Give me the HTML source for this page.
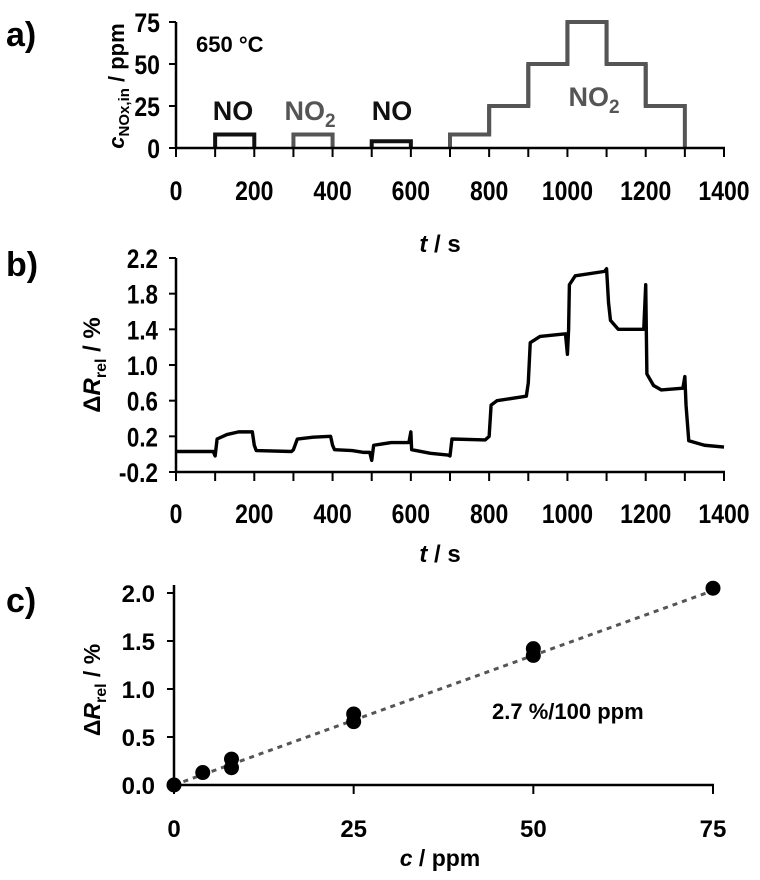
<!DOCTYPE html>
<html><head><meta charset="utf-8"><style>
body{margin:0;background:#fff;}
svg{display:block;font-family:"Liberation Sans",Arial,sans-serif;font-weight:bold;}
</style></head><body>
<svg id="s" width="760" height="880" viewBox="0 0 760 880"></svg>
<script>
// Panel a data
const aSegT = [0,100,200,300,400,500,600,700,800,900,1000,1100,1200,1300,1400];
const aSegV = [0,8,0,8,0,4,0,8,25,50,75,50,25,0];
const aSegGas = ["none","NO","none","NO2","none","NO","none","NO2","NO2","NO2","NO2","NO2","NO2","none"];
const aYTicks = [0,25,50,75];
const xTicks = [0,200,400,600,800,1000,1200,1400];
// Panel b data
const bT = [0,95,100,105,130,160,195,200,205,295,300,310,350,395,400,405,450,480,495,500,505,550,595,600,602,650,695,700,705,790,800,805,820,895,900,905,930,995,1000,1003,1005,1020,1095,1100,1105,1110,1130,1195,1200,1203,1220,1240,1295,1300,1303,1310,1350,1400];
const bV = [0.03,0.03,-0.02,0.17,0.22,0.25,0.25,0.1,0.04,0.03,0.05,0.17,0.19,0.2,0.1,0.05,0.04,0.02,0.02,-0.07,0.1,0.13,0.13,0.25,0.05,0.01,-0.01,-0.02,0.17,0.16,0.2,0.55,0.6,0.65,0.8,1.25,1.32,1.35,1.12,1.4,1.9,2.0,2.05,2.08,1.7,1.5,1.4,1.4,1.9,0.9,0.77,0.72,0.74,0.87,0.55,0.15,0.1,0.08];
const bYTicks = [-0.2,0.2,0.6,1.0,1.4,1.8,2.2];
// Panel c data
const cX = [0,4,8,8,25,25,50,50,75];
const cY = [0,0.13,0.27,0.18,0.74,0.66,1.42,1.35,2.05];
const cSlope = [0.027];
const cXTicks = [0,25,50,75];
const cYTicks = [0,0.5,1.0,1.5,2.0];

const svg=document.getElementById('s');
const NS='http://www.w3.org/2000/svg';
function mk(tag,attrs,parent){const e=document.createElementNS(NS,tag);for(const k in attrs)e.setAttribute(k,attrs[k]);(parent||svg).appendChild(e);return e;}
function txt(x,y,s,size,anchor,fill,parent){const t=mk('text',{x:x,y:y,'font-size':size,'text-anchor':anchor||'middle',fill:fill||'#000'},parent);t.textContent=s;return t;}
function ntxt(x,y,s,anchor,parent){
  let w=0;for(const ch of s)w+= (ch==='.')?5.5:(ch==='-'?8:12.8);
  const t=mk('text',{x:x,y:y,'font-size':27,'text-anchor':anchor,textLength:w,lengthAdjust:'spacingAndGlyphs'},parent);
  t.textContent=s;return t;
}

const ax=t=>176+t/1400*548;
const ay=v=>148-v/75*126;
const by=v=>472-(v+0.2)/2.4*214;
const cx=c=>174+c/75*539;
const cy=v=>785-v/2*192;

// ---- Panel a
const ga=mk('g',{});


txt(6,46,'a)',34,'start','#000',ga);
for(let i=0;i<aSegV.length;i++){
  const x1=ax(aSegT[i]),x2=ax(aSegT[i+1]),y=ay(aSegV[i]);
  if(aSegGas[i]==='none')continue;
  const col=aSegGas[i]==='NO'?'#111':'#555';
  const prevV=i>0&&aSegGas[i-1]!=='none'?aSegV[i-1]:0;
  const nextV=i<aSegV.length-1&&aSegGas[i+1]!=='none'?aSegV[i+1]:0;
  const p=mk('path',{d:`M${x1},${ay(prevV)}L${x1},${y}L${x2},${y}L${x2},${ay(nextV)}`,fill:'none',stroke:col,'stroke-width':4},ga);
  
  
}
mk('line',{x1:176,y1:22,x2:176,y2:149,stroke:'#000','stroke-width':2.5},ga);
mk('line',{x1:176,y1:148,x2:725,y2:148,stroke:'#000','stroke-width':2.5},ga);
aYTicks.forEach(v=>{mk('line',{x1:169,y1:ay(v),x2:176,y2:ay(v),stroke:'#000','stroke-width':2},ga);ntxt(160,ay(v)+10,String(v),'end',ga);});
for(let t=0;t<=1400;t+=100)mk('line',{x1:ax(t),y1:148,x2:ax(t),y2:157,stroke:'#000','stroke-width':2},ga);
xTicks.forEach(t=>ntxt(ax(t),200,String(t),'middle',ga));
const ata=txt(440,252,'',24,'middle','#000',ga);ata.innerHTML='<tspan font-style="italic">t</tspan> / s';
const ayl=mk('text',{transform:'translate(124,86) rotate(-90)','font-size':22,'text-anchor':'middle'},ga);
ayl.innerHTML='<tspan font-style="italic">c</tspan><tspan font-size="15" dy="5">NOx,in</tspan><tspan dy="-5"> / ppm</tspan>';
txt(196,52,'650 °C',22,'start','#000',ga);
txt(233,120,'NO',27,'middle','#111',ga);
const n1=txt(310,120,'',27,'middle','#555',ga);n1.innerHTML='NO<tspan font-size="19" dy="7">2</tspan>';
txt(392,120,'NO',27,'middle','#111',ga);
const n2=txt(594,106,'',27,'middle','#555',ga);n2.innerHTML='NO<tspan font-size="19" dy="7">2</tspan>';

// ---- Panel b
const gb=mk('g',{});


txt(6,276,'b)',34,'start','#000',gb);
mk('line',{x1:176,y1:258,x2:176,y2:473,stroke:'#000','stroke-width':2.5},gb);
mk('line',{x1:176,y1:472,x2:725,y2:472,stroke:'#000','stroke-width':2.5},gb);
bYTicks.forEach(v=>{mk('line',{x1:169,y1:by(v),x2:176,y2:by(v),stroke:'#000','stroke-width':2},gb);ntxt(158,by(v)+10,v.toFixed(1),'end',gb);});
for(let t=0;t<=1400;t+=100)mk('line',{x1:ax(t),y1:472,x2:ax(t),y2:481,stroke:'#000','stroke-width':2},gb);
xTicks.forEach(t=>ntxt(ax(t),523,String(t),'middle',gb));
const btl=txt(440,562,'',24,'middle','#000',gb);btl.innerHTML='<tspan font-style="italic">t</tspan> / s';
const byl=mk('text',{transform:'translate(100,365) rotate(-90)','font-size':24,'text-anchor':'middle'},gb);
byl.innerHTML='Δ<tspan font-style="italic">R</tspan><tspan font-size="16" dy="6">rel</tspan><tspan dy="-6"> / %</tspan>';
const bl=mk('polyline',{points:bT.map((t,i)=>ax(t)+','+by(bV[i])).join(' '),fill:'none',stroke:'#000','stroke-width':3.4,'stroke-linejoin':'round'},gb);



// ---- Panel c
const gc=mk('g',{});


txt(6,612,'c)',34,'start','#000',gc);
mk('line',{x1:174,y1:585,x2:174,y2:786,stroke:'#000','stroke-width':2.5},gc);
mk('line',{x1:174,y1:785,x2:714,y2:785,stroke:'#000','stroke-width':2.5},gc);
cYTicks.forEach(v=>{mk('line',{x1:167,y1:cy(v),x2:174,y2:cy(v),stroke:'#000','stroke-width':2},gc);txt(155,cy(v)+9,v.toFixed(1),24,'end','#000',gc);});
cXTicks.forEach(c=>{mk('line',{x1:cx(c),y1:785,x2:cx(c),y2:794,stroke:'#000','stroke-width':2},gc);txt(cx(c),837,String(c),24,'middle','#000',gc);});
const cxl=txt(440,866,'',23,'middle','#000',gc);cxl.innerHTML='<tspan font-style="italic">c</tspan> / ppm';
const cyl=mk('text',{transform:'translate(100,690) rotate(-90)','font-size':23,'text-anchor':'middle'},gc);
cyl.innerHTML='Δ<tspan font-style="italic">R</tspan><tspan font-size="16" dy="6">rel</tspan><tspan dy="-6"> / %</tspan>';
const fit=mk('line',{x1:cx(0),y1:cy(0),x2:cx(75),y2:cy(75*cSlope[0]),stroke:'#555','stroke-width':3,'stroke-dasharray':'5,5'},gc);


cX.forEach((c,i)=>{const d=mk('circle',{cx:cx(c),cy:cy(cY[i]),r:7.5,fill:'#000'},gc);

});
txt(492,719,'2.7 %/100 ppm',22,'start','#000',gc);
</script>
</body></html>
